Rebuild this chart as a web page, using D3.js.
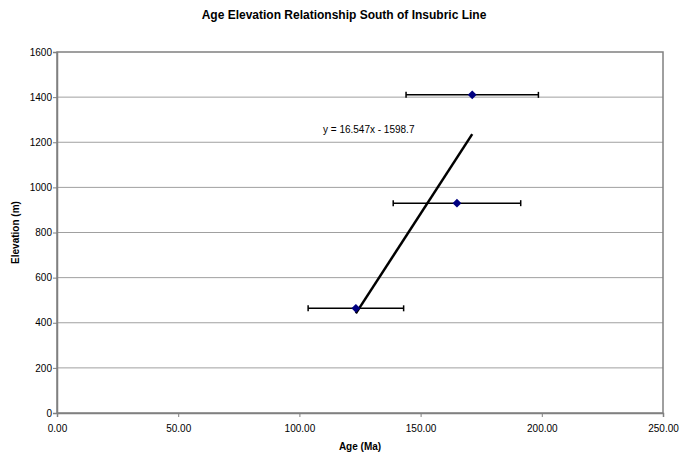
<!DOCTYPE html>
<html>
<head>
<meta charset="utf-8">
<title>Age Elevation Relationship South of Insubric Line</title>
<style>
  body { margin: 0; background: #fff; }
  svg { display: block; font-family: "Liberation Sans", Arial, sans-serif; }
  .tick text { font-size: 10px; fill: #000; }
</style>
<script src="https://d3js.org/d3.v7.min.js"></script>
</head>
<body>
<script>
// samples: age (Ma) with error, elevation (m)
var ages = [123.3, 165.0, 171.3];
var ageErrors = [19.7, 26.3, 27.3];
var elevations = [464, 930, 1410];
var xTicks = [0, 50, 100, 150, 200, 250];
var yTicks = [0, 200, 400, 600, 800, 1000, 1200, 1400, 1600];
var slope = 16.547, intercept = -1598.7;
var trendLabel = "y = 16.547x - 1598.7";

var w = 691, h = 455;
// plot area edges (window.top is reserved, so prefixed names)
var pLeft = 57, pRight = 663, pTop = 52, pBottom = 413;

var svg = d3.select("body").append("svg").attr("width", w).attr("height", h);

var x = d3.scaleLinear().domain([0, 250]).range([pLeft, pRight]);
var y = d3.scaleLinear().domain([0, 1600]).range([pBottom, pTop]);

// gridlines
svg.append("g").selectAll("line")
   .data(yTicks.slice(1, -1))
   .enter().append("line")
   .attr("x1", pLeft).attr("x2", pRight)
   .attr("y1", function (d) { return y(d); })
   .attr("y2", function (d) { return y(d); })
   .attr("stroke", "#a0a0a0").attr("stroke-width", 1);

// frame
svg.append("rect")
   .attr("x", pLeft).attr("y", pTop)
   .attr("width", pRight - pLeft).attr("height", pBottom - pTop)
   .attr("fill", "none").attr("stroke", "#808080").attr("stroke-width", 1.5);

var xAxis = svg.append("g").attr("transform", "translate(0," + pBottom + ")")
   .call(d3.axisBottom(x).tickValues(xTicks).tickSize(4).tickFormat(d3.format(".2f")));
xAxis.select(".domain").attr("stroke", "#808080").attr("stroke-width", 1.5);
xAxis.selectAll(".tick line").attr("stroke", "#808080");
xAxis.selectAll(".tick text").attr("y", 12);

var yAxis = svg.append("g").attr("transform", "translate(" + pLeft + ",0)")
   .call(d3.axisLeft(y).tickValues(yTicks).tickSize(4).tickFormat(d3.format("d")));
yAxis.select(".domain").attr("stroke", "#808080").attr("stroke-width", 1.5);
yAxis.selectAll(".tick line").attr("stroke", "#808080");
yAxis.selectAll(".tick text").attr("x", -5);

// error bars
var eb = svg.append("g").attr("stroke", "#000").attr("stroke-width", 1.5);
ages.forEach(function (a, i) {
  var yy = y(elevations[i]);
  eb.append("line").attr("x1", x(a - ageErrors[i])).attr("x2", x(a + ageErrors[i]))
    .attr("y1", yy).attr("y2", yy);
  [a - ageErrors[i], a + ageErrors[i]].forEach(function (e) {
    eb.append("line").attr("x1", x(e)).attr("x2", x(e))
      .attr("y1", yy - 3).attr("y2", yy + 3);
  });
});

// trendline
var xmin = d3.min(ages), xmax = d3.max(ages);
svg.append("line")
   .attr("x1", x(xmin)).attr("y1", y(slope * xmin + intercept))
   .attr("x2", x(xmax)).attr("y2", y(slope * xmax + intercept))
   .attr("stroke", "#000").attr("stroke-width", 2.5);

// points
svg.append("g").selectAll("path")
   .data(ages)
   .enter().append("path")
   .attr("d", d3.symbol().type(d3.symbolDiamond2).size(50))
   .attr("transform", function (d, i) { return "translate(" + x(d) + "," + y(elevations[i]) + ")"; })
   .attr("fill", "#000080");

svg.append("text")
   .attr("x", 323).attr("y", 133)
   .attr("font-size", 10)
   .text(trendLabel);

svg.append("text")
   .attr("x", 344).attr("y", 19)
   .attr("text-anchor", "middle")
   .attr("font-size", 12).attr("font-weight", "bold")
   .text("Age Elevation Relationship South of Insubric Line");

svg.append("text")
   .attr("x", 360).attr("y", 450)
   .attr("text-anchor", "middle")
   .attr("font-size", 10).attr("font-weight", "bold")
   .text("Age (Ma)");

svg.append("text")
   .attr("transform", "translate(19," + (pTop + pBottom) / 2 + ") rotate(-90)")
   .attr("text-anchor", "middle")
   .attr("font-size", 10).attr("font-weight", "bold")
   .text("Elevation (m)");
</script>
</body>
</html>
